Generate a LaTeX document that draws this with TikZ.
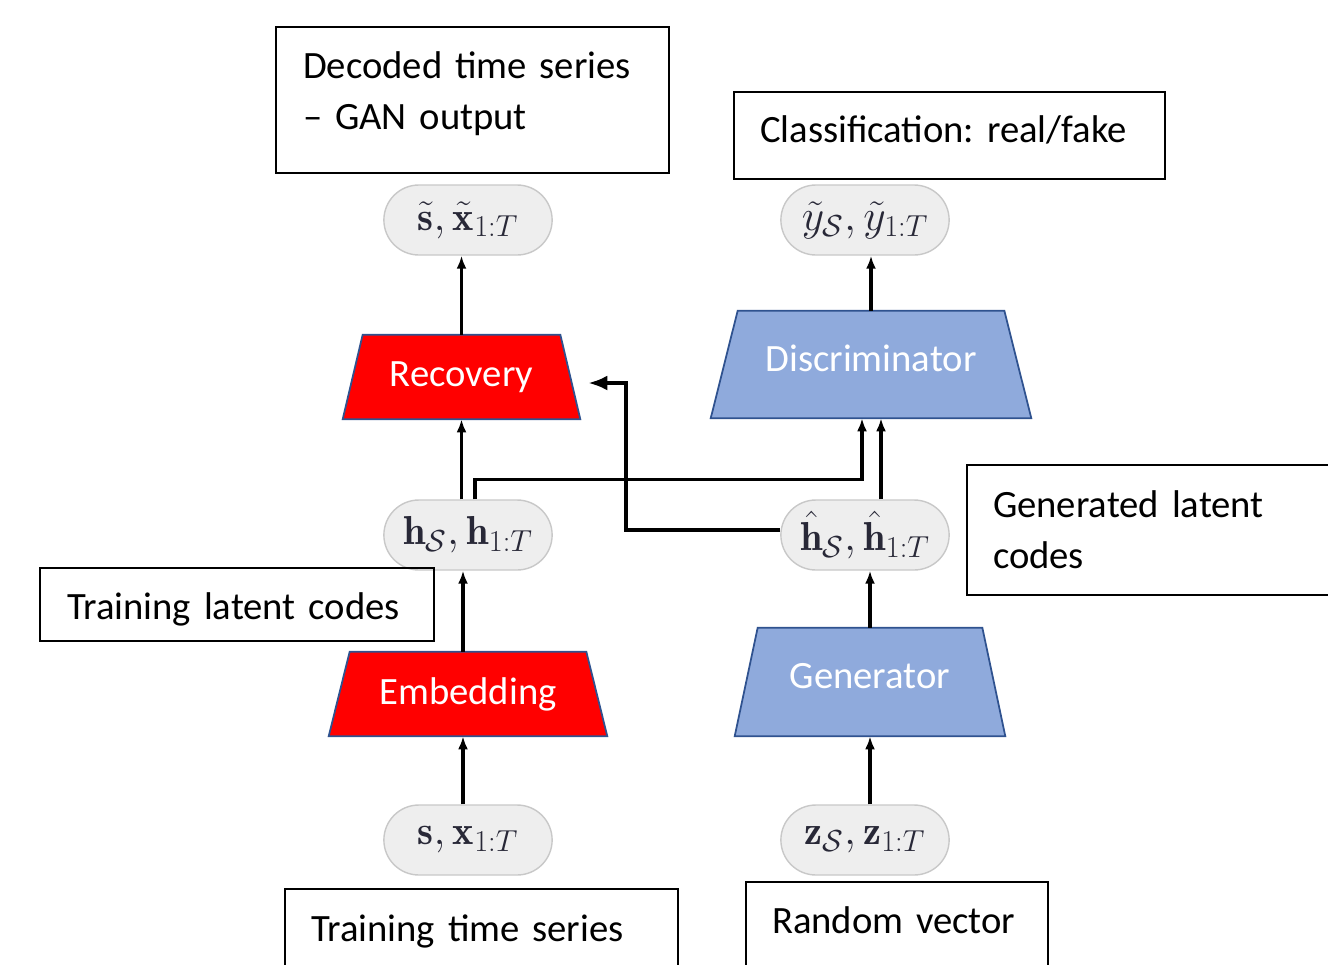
\documentclass[tikz,border=0pt]{standalone}
\usepackage{fontspec}
\usepackage{amsmath,amssymb}
\usepackage{tikz}
\usetikzlibrary{arrows.meta,positioning,calc,shapes.misc,backgrounds}
\newfontfamily\calib{Carlito}
\DeclareMathSizes{23}{23}{18}{14}
\frenchspacing
\definecolor{recred}{RGB}{255,0,0}
\definecolor{netblue}{RGB}{143,170,220}
\definecolor{edgeblue}{RGB}{47,82,143}
\definecolor{pillgray}{RGB}{238,238,238}
\definecolor{pillline}{RGB}{200,200,200}
\definecolor{mathink}{RGB}{40,40,55}
\tikzset{
  txtbox/.style={draw, line width=0.8pt, align=left, inner ysep=0pt,
    text height=0.5cm, font=\calib\fontsize{22}{29.5}\selectfont},
  pill/.style={rounded rectangle, fill=pillgray, draw=pillline, line width=0.8pt,
    minimum width=3.6cm, minimum height=1.4cm, text=mathink,
    font=\fontsize{23}{27}\selectfont},
  netblk/.style={inner sep=0pt, text=white,
    font=\calib\fontsize{22}{26}\selectfont},
  arr/.style={-{Latex[length=0.26cm,width=0.2cm]}, line width=2pt},
  bigarr/.style={-{Latex[length=0.38cm,width=0.3cm]}, line width=2pt},
}
% trapezoid behind a network node: node, fill, top inset (px)
\newcommand{\netshape}[3]{%
  \filldraw[fill=#2, draw=edgeblue, line width=1pt]
    ($(#1.north west)+(#3,0)$) -- ($(#1.north east)-(#3,0)$)
    -- (#1.south east) -- (#1.south west) -- cycle;
}

\begin{document}
\begin{tikzpicture}[x=0.02cm, y=-0.02cm]
    \useasboundingbox (0,0) rectangle (1328,964);
    % pills
    \node[pill] (st) at (468,220) {$\tilde{\mathbf{s}}, \tilde{\mathbf{x}}_{1:T}$};
    \node[pill] (yt) at (865,220) {$\tilde{y}_{\mathcal{S}}, \tilde{y}_{1:T}$};
    \node[pill] (h)  at (468,535) {$\mathbf{h}_{\mathcal{S}}, \mathbf{h}_{1:T}$};
    \node[pill] (hh) at (865,535) {$\hat{\mathbf{h}}_{\mathcal{S}}, \hat{\mathbf{h}}_{1:T}$};
    \node[pill] (sx) at (468,840) {$\mathbf{s}, \mathbf{x}_{1:T}$};
    \node[pill] (zz) at (865,840) {$\mathbf{z}_{\mathcal{S}}, \mathbf{z}_{1:T}$};
    % networks
    \node[netblk, minimum width=4.74cm, minimum height=1.68cm]
      (rec) at (461.5,377) {Recovery};
    \node[netblk, text depth=0.24cm, minimum width=6.4cm, minimum height=2.14cm]
      (disc) at (871,364.5) {Discriminator};
    \node[netblk, minimum width=5.56cm, minimum height=1.68cm]
      (emb) at (468,694) {Embedding};
    \node[netblk, text depth=0.26cm, minimum width=5.4cm, minimum height=2.16cm]
      (gen) at (870,682) {Generator};
    \begin{pgfonlayer}{background}
      \netshape{rec}{recred}{20}
      \netshape{disc}{netblue}{27}
      \netshape{emb}{recred}{21}
      \netshape{gen}{netblue}{23}
    \end{pgfonlayer}
    % captions
    \node[txtbox, text depth=1.38cm, text width=6.78cm, inner xsep=0.54cm,
      minimum height=2.92cm] (capdec) at (472.5,100)
      {Decoded time series\\– GAN output};
    \node[txtbox, text depth=0.24cm, text width=7.58cm, inner xsep=0.52cm,
      minimum height=1.74cm] (capcls) at (949.5,135.5)
      {Classification: real/fake};
    \node[txtbox, text depth=1.02cm, text width=6.32cm, inner xsep=0.52cm,
      minimum height=2.6cm] (capgen) at (1151,530)
      {Generated latent\\codes};
    \node[txtbox, text height=0.7cm, text depth=0.12cm, text width=6.8cm,
      inner xsep=0.54cm, minimum height=1.46cm] (caplat) at (237,604.5)
      {Training latent codes};
    \node[txtbox, text depth=0.14cm, text width=6.82cm, inner xsep=0.52cm,
      minimum height=1.72cm] (capts) at (481.5,932)
      {Training time series};
    \node[txtbox, text depth=0.18cm, text width=5.0cm, inner xsep=0.52cm,
      minimum height=1.72cm] (caprnd) at (897,925)
      {Random vector};
    % connectors
    \draw[arr] ([xshift=-0.1cm]emb.south |- sx.north) -- ([xshift=-0.1cm]emb.south);
    \draw[arr] ([xshift=-0.1cm]emb.north) -- ([xshift=-0.1cm]emb.north |- h.south);
    \draw[arr] (rec.south |- h.north) -- (rec.south);
    \draw[arr] (rec.north) -- (rec.north |- st.south);
    \draw[arr] (gen.south |- zz.north) -- (gen.south);
    \draw[arr] (gen.north) -- (gen.north |- hh.south);
    \draw[arr] ([xshift=0.2cm]disc.south |- hh.north) -- ([xshift=0.2cm]disc.south);
    \draw[arr] ([xshift=0.14cm]h.north) -- ++(0,-20) -| ([xshift=-0.18cm]disc.south);
    \draw[arr] (disc.north) -- (disc.north |- yt.south);
    \draw[bigarr] ([yshift=0.1cm]hh.west) -- ++(-154,0)
      |- ([xshift=0.16cm,yshift=-0.12cm]rec.east);
\end{tikzpicture}
\end{document}
